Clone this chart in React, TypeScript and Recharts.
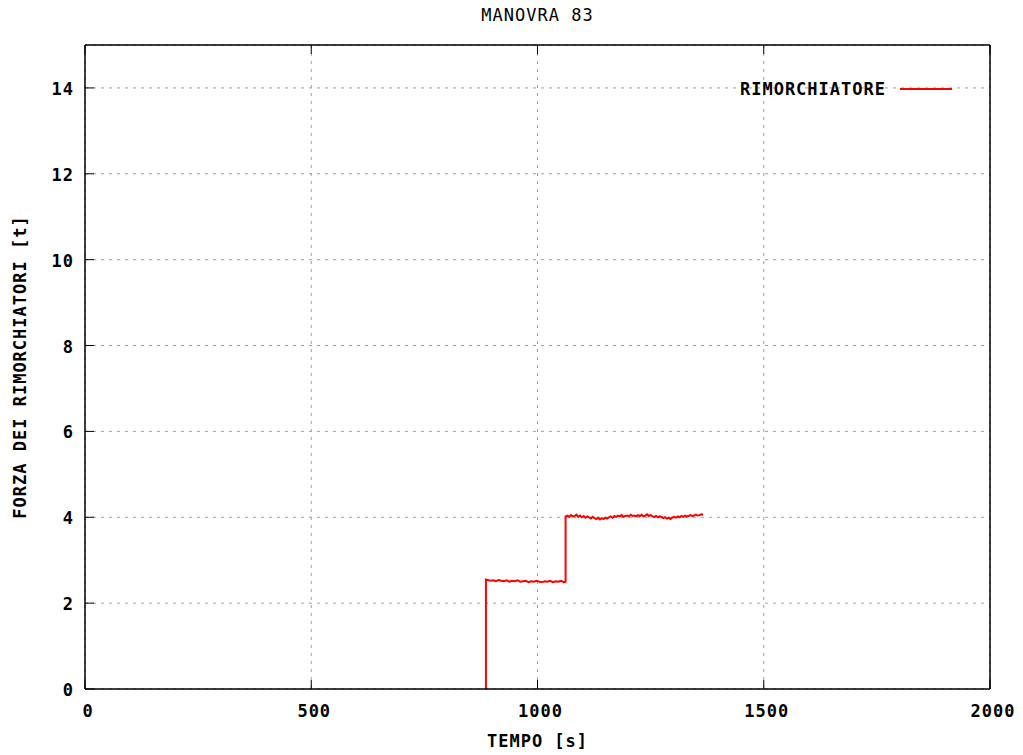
import React from 'react';
import { LineChart, Line, XAxis, YAxis, CartesianGrid, Legend } from 'recharts';

const chartTitle = 'MANOVRA 83';
const xLabel = 'TEMPO [s]';
const yLabel = 'FORZA DEI RIMORCHIATORI [t]';
const seriesName = 'RIMORCHIATORE';

const xTicks = [0, 500, 1000, 1500, 2000];
const yTicks = [0, 2, 4, 6, 8, 10, 12, 14];

const timeS = [
  886, 886, 890, 896, 902, 908, 914, 920, 926, 932, 938, 944, 950, 956, 962, 968, 974, 980, 986, 992,
  998, 1004, 1010, 1016, 1022, 1028, 1034, 1040, 1046, 1052, 1058, 1062,
  1062, 1066, 1070, 1074, 1078, 1082, 1086, 1090, 1094, 1098, 1102, 1106, 1110, 1114, 1118, 1122, 1126,
  1130, 1134, 1138, 1142, 1146, 1150, 1154, 1158, 1162, 1166, 1170, 1174, 1178, 1182, 1186, 1190, 1194,
  1198, 1202, 1206, 1210, 1214, 1218, 1222, 1226, 1230, 1234, 1238, 1242, 1246, 1250, 1254, 1258, 1262,
  1266, 1270, 1274, 1278, 1282, 1286, 1290, 1294, 1298, 1302, 1306, 1310, 1314, 1318, 1322, 1326, 1330,
  1334, 1338, 1342, 1346, 1350, 1354, 1358, 1362, 1366,
];

const forceT = [
  0, 2.55, 2.54, 2.52, 2.53, 2.51, 2.54, 2.52, 2.51, 2.53, 2.50, 2.52, 2.51, 2.53, 2.50, 2.51, 2.52, 2.49, 2.51, 2.50,
  2.52, 2.50, 2.49, 2.51, 2.50, 2.52, 2.49, 2.51, 2.50, 2.52, 2.49, 2.50,
  4.02, 4.04, 4.01, 4.05, 4.02, 4.03, 4.06, 4.01, 4.04, 4.00, 4.03, 3.99, 4.02, 4.00, 3.97, 4.01, 3.98,
  3.96, 3.99, 3.95, 3.98, 3.96, 3.99, 3.97, 4.00, 4.02, 3.99, 4.03, 4.01, 4.04, 4.02, 4.05, 4.01, 4.03,
  4.04, 4.02, 4.06, 4.03, 4.04, 4.02, 4.05, 4.03, 4.06, 4.02, 4.04, 4.07, 4.03, 4.05, 4.02, 4.01, 4.03,
  4.00, 4.02, 4.01, 3.98, 4.00, 3.97, 3.99, 3.96, 3.99, 4.01, 3.99, 4.02, 4.00, 4.03, 4.01, 4.04, 4.02,
  4.03, 4.05, 4.03, 4.04, 4.06, 4.04, 4.05, 4.07, 4.06,
];

const data = timeS.map((t, i) => ({ t, f: forceT[i] }));

const FONT = '"DejaVu Sans Mono", "Liberation Mono", monospace';
const tickFont: React.CSSProperties = {
  fontFamily: FONT,
  fontSize: 17,
  fontWeight: 'bold',
  letterSpacing: 1,
  fill: '#000',
};
const TICK_LEN = 9;
const FRAME = { stroke: '#000', strokeWidth: 1.5 };

const BottomTick = (props: any) => {
  const { x, y, payload } = props;
  return (
    <g>
      <line x1={x} y1={y} x2={x} y2={y - TICK_LEN} stroke="#000" strokeWidth={1} />
      <text x={x + 3} y={y + 28} textAnchor="middle" style={tickFont}>
        {payload.value}
      </text>
    </g>
  );
};

const TopTick = (props: any) => {
  const { x, y } = props;
  return <line x1={x} y1={y} x2={x} y2={y + TICK_LEN} stroke="#000" strokeWidth={1} />;
};

const LeftTick = (props: any) => {
  const { x, y, payload } = props;
  return (
    <g>
      <line x1={x} y1={y} x2={x + TICK_LEN} y2={y} stroke="#000" strokeWidth={1} />
      <text x={x - 11} y={y + 7} textAnchor="end" style={tickFont}>
        {payload.value}
      </text>
    </g>
  );
};

const RightTick = (props: any) => {
  const { x, y } = props;
  return <line x1={x} y1={y} x2={x - TICK_LEN} y2={y} stroke="#000" strokeWidth={1} />;
};

const LegendContent = (props: any) => {
  const { payload } = props;
  return (
    <div style={{ display: 'flex', alignItems: 'center', justifyContent: 'flex-end' }}>
      {(payload || []).map((p: any) => (
        <div key={p.value} style={{ display: 'flex', alignItems: 'center' }}>
          <span
            style={{
              fontFamily: FONT,
              fontSize: 17,
              fontWeight: 'bold',
              letterSpacing: 1,
              color: '#000',
              lineHeight: '18px',
            }}
          >
            {p.value}
          </span>
          <svg width={66} height={10}>
            <line x1={14} y1={5} x2={66} y2={5} stroke={p.color} strokeWidth={2} />
          </svg>
        </div>
      ))}
    </div>
  );
};

export default function App() {
  return (
    <div
      style={{
        position: 'absolute',
        left: 0,
        top: 0,
        width: 1023,
        height: 755,
        background: '#fff',
      }}
    >
      <LineChart
        width={1023}
        height={755}
        data={data}
        margin={{ top: 44, right: 32, bottom: 0, left: 0 }}
      >
        <CartesianGrid
          xAxisId="bottom"
          yAxisId="left"
          stroke="#a0a0a0"
          strokeDasharray="3 5"
          strokeWidth={1}
        />
        <XAxis
          xAxisId="bottom"
          dataKey="t"
          type="number"
          domain={[0, 2000]}
          ticks={xTicks}
          orientation="bottom"
          height={66}
          tickSize={0}
          tickMargin={0}
          tickLine={false}
          axisLine={FRAME}
          tick={<BottomTick />}
          interval={0}
          allowDataOverflow
        />
        <XAxis
          xAxisId="top"
          dataKey="t"
          type="number"
          domain={[0, 2000]}
          ticks={xTicks}
          orientation="top"
          height={1}
          tickSize={0}
          tickMargin={0}
          tickLine={false}
          axisLine={FRAME}
          tick={<TopTick />}
          interval={0}
        />
        <YAxis
          yAxisId="left"
          type="number"
          domain={[0, 15]}
          ticks={yTicks}
          orientation="left"
          width={85}
          tickSize={0}
          tickMargin={0}
          tickLine={false}
          axisLine={FRAME}
          tick={<LeftTick />}
          interval={0}
          allowDataOverflow
        />
        <YAxis
          yAxisId="right"
          type="number"
          domain={[0, 15]}
          ticks={yTicks}
          orientation="right"
          width={1}
          tickSize={0}
          tickMargin={0}
          tickLine={false}
          axisLine={FRAME}
          tick={<RightTick />}
          interval={0}
        />
        <Legend
          layout="horizontal"
          verticalAlign="middle"
          align="center"
          content={<LegendContent />}
          wrapperStyle={{ position: 'absolute', top: 80, left: 700, width: 252, margin: 0 }}
        />
        <Line
          xAxisId="bottom"
          yAxisId="left"
          type="linear"
          dataKey="f"
          name={seriesName}
          stroke="#ff0000"
          strokeWidth={2}
          dot={false}
          activeDot={false}
          isAnimationActive={false}
        />
      </LineChart>
      <div
        style={{
          position: 'absolute',
          left: 0,
          width: 1075,
          top: 6,
          textAlign: 'center',
          fontFamily: FONT,
          fontSize: 17,
          letterSpacing: 1,
          lineHeight: '18px',
          color: '#000',
        }}
      >
        {chartTitle}
      </div>
      <div
        style={{
          position: 'absolute',
          left: 0,
          width: 1075,
          top: 732,
          textAlign: 'center',
          fontFamily: FONT,
          fontSize: 17,
          fontWeight: 'bold',
          letterSpacing: 1,
          lineHeight: '18px',
          color: '#000',
        }}
      >
        {xLabel}
      </div>
      <div
        style={{
          position: 'absolute',
          left: 20 - 200,
          top: 367 - 9,
          width: 400,
          height: 18,
          textAlign: 'center',
          fontFamily: FONT,
          fontSize: 17,
          fontWeight: 'bold',
          letterSpacing: 1,
          lineHeight: '18px',
          color: '#000',
          transform: 'rotate(-90deg)',
          transformOrigin: '200px 9px',
          whiteSpace: 'nowrap',
        }}
      >
        {yLabel}
      </div>
    </div>
  );
}
